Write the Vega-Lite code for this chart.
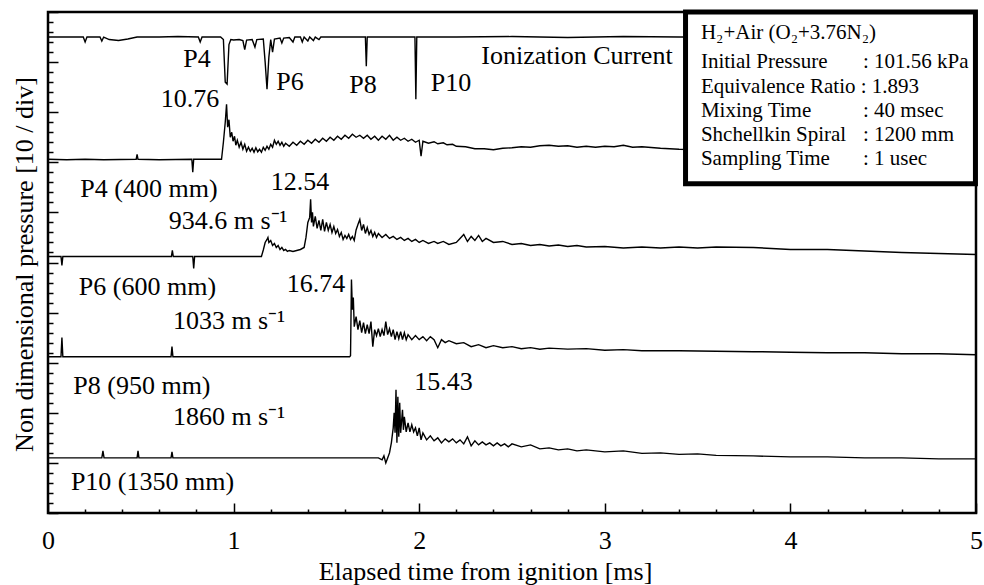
{
"$schema": "https://vega.github.io/schema/vega-lite/v6.json",
"width": 928, "height": 501,
"autosize": {"type": "none"},
"padding": {"left": 48, "top": 12, "right": 8, "bottom": 72},
"background": "white",
"config": {"view": {"stroke": "black", "strokeWidth": 2.5}, "font": "Liberation Serif"},
"encoding": {
"x": {"field": "t", "type": "quantitative", "title": "Elapsed time from ignition [ms]", "scale": {"domain": [0, 5], "nice": false, "zero": false},
"axis": {"values": [0,0.2,0.4,0.6,0.8,1,1.2,1.4,1.6,1.8,2,2.2,2.4,2.6,2.8,3,3.2,3.4,3.6,3.8,4,4.2,4.4,4.6,4.8,5],
"labelExpr": "datum.value % 1 === 0 ? format(datum.value, 'd') : ''", "labelFontSize": 26, "labelColor": "black", "labelPadding": 24, "labelFlush": false, "labelOverlap": false, "labelBound": false,
"domain": false, "grid": false, "tickColor": "black", "tickWidth": 1.5,
"tickSize": {"condition": {"test": "datum.value % 1 === 0", "value": -10}, "value": -4},
"titleFontSize": 26, "titleFontWeight": "normal", "titleColor": "black", "titleX": 437, "titleY": 66, "titleAlign": "center", "titleBaseline": "alphabetic"}},
"y": {"field": "p", "type": "quantitative", "title": "Non dimensional pressure [10 / div]", "scale": {"domain": [0, 100], "nice": false, "zero": false},
"axis": {"values": [0,2,4,6,8,10,12,14,16,18,20,22,24,26,28,30,32,34,36,38,40,42,44,46,48,50,52,54,56,58,60,62,64,66,68,70,72,74,76,78,80,82,84,86,88,90,92,94,96,98,100],
"labels": false, "domain": false, "grid": false, "tickColor": "black", "tickWidth": 1.5,
"tickSize": {"condition": {"test": "datum.value % 10 === 0", "value": -10}, "value": -5},
"titleFontSize": 26, "titleFontWeight": "normal", "titleColor": "black", "titleX": -16, "titleY": 252, "titleAngle": -90, "titleAlign": "center", "titleBaseline": "alphabetic"}}
},
"layer": [
{
"data": {"values": [
{"c":"ion","t":0,"p":95},{"c":"ion","t":0.1,"p":95},{"c":"ion","t":0.19,"p":95},{"c":"ion","t":0.2,"p":94},{"c":"ion","t":0.21,"p":95},{"c":"ion","t":0.28,"p":95},{"c":"ion","t":0.29,"p":94.2},{"c":"ion","t":0.3,"p":95},{"c":"ion","t":0.33,"p":94.5},{"c":"ion","t":0.38,"p":94.3},{"c":"ion","t":0.43,"p":94.6},{"c":"ion","t":0.48,"p":95},{"c":"ion","t":0.6,"p":95},{"c":"ion","t":0.7,"p":95.1},{"c":"ion","t":0.81,"p":95},{"c":"ion","t":0.82,"p":94},{"c":"ion","t":0.83,"p":95},{"c":"ion","t":0.93,"p":95},{"c":"ion","t":0.945,"p":94.5},{"c":"ion","t":0.955,"p":86},{"c":"ion","t":0.965,"p":85.6},{"c":"ion","t":0.975,"p":93.5},{"c":"ion","t":0.985,"p":94.5},{"c":"ion","t":1.0,"p":94.4},{"c":"ion","t":1.03,"p":94.5},{"c":"ion","t":1.05,"p":94.3},{"c":"ion","t":1.06,"p":92.5},{"c":"ion","t":1.07,"p":94.4},{"c":"ion","t":1.1,"p":94.5},{"c":"ion","t":1.115,"p":93},{"c":"ion","t":1.125,"p":94.5},{"c":"ion","t":1.16,"p":94.6},{"c":"ion","t":1.17,"p":90},{"c":"ion","t":1.18,"p":84.6},{"c":"ion","t":1.19,"p":91},{"c":"ion","t":1.2,"p":94.5},{"c":"ion","t":1.21,"p":92},{"c":"ion","t":1.22,"p":94.6},{"c":"ion","t":1.25,"p":94.8},{"c":"ion","t":1.26,"p":93.8},{"c":"ion","t":1.27,"p":94.8},{"c":"ion","t":1.3,"p":94.9},{"c":"ion","t":1.32,"p":94},{"c":"ion","t":1.33,"p":95},{"c":"ion","t":1.36,"p":95},{"c":"ion","t":1.37,"p":94},{"c":"ion","t":1.38,"p":95},{"c":"ion","t":1.4,"p":94.2},{"c":"ion","t":1.41,"p":95},{"c":"ion","t":1.43,"p":94.3},{"c":"ion","t":1.44,"p":95},{"c":"ion","t":1.46,"p":94.5},{"c":"ion","t":1.47,"p":95},{"c":"ion","t":1.6,"p":95},{"c":"ion","t":1.71,"p":95},{"c":"ion","t":1.715,"p":89.2},{"c":"ion","t":1.72,"p":95},{"c":"ion","t":1.9,"p":95},{"c":"ion","t":1.977,"p":95},{"c":"ion","t":1.982,"p":82.6},{"c":"ion","t":1.987,"p":95},{"c":"ion","t":2.2,"p":95},{"c":"ion","t":2.5,"p":95.1},{"c":"ion","t":2.8,"p":94.9},{"c":"ion","t":3.1,"p":95.1},{"c":"ion","t":3.4,"p":95},{"c":"ion","t":3.8,"p":95},{"c":"ion","t":4.2,"p":95},{"c":"ion","t":4.6,"p":95},{"c":"ion","t":5,"p":95},

{"c":"p4","t":0,"p":70.6},{"c":"p4","t":0.1,"p":70.5},{"c":"p4","t":0.2,"p":70.6},{"c":"p4","t":0.3,"p":70.5},{"c":"p4","t":0.475,"p":70.6},{"c":"p4","t":0.48,"p":71.6},{"c":"p4","t":0.485,"p":70.6},{"c":"p4","t":0.6,"p":70.5},{"c":"p4","t":0.775,"p":70.6},{"c":"p4","t":0.78,"p":68},{"c":"p4","t":0.785,"p":70.6},{"c":"p4","t":0.9,"p":70.6},{"c":"p4","t":0.935,"p":70.6},{"c":"p4","t":0.945,"p":74},{"c":"p4","t":0.955,"p":78},{"c":"p4","t":0.962,"p":81.6},{"c":"p4","t":0.968,"p":77},{"c":"p4","t":0.975,"p":78.5},{"c":"p4","t":0.982,"p":75},{"c":"p4","t":0.99,"p":76},{"c":"p4","t":0.997,"p":74.2},{"c":"p4","t":1.005,"p":75.2},{"c":"p4","t":1.012,"p":73.4},{"c":"p4","t":1.02,"p":74.4},{"c":"p4","t":1.03,"p":73},{"c":"p4","t":1.04,"p":74},{"c":"p4","t":1.05,"p":72.6},{"c":"p4","t":1.06,"p":73.6},{"c":"p4","t":1.07,"p":72.2},{"c":"p4","t":1.08,"p":73},{"c":"p4","t":1.09,"p":72.2},{"c":"p4","t":1.1,"p":72.8},{"c":"p4","t":1.11,"p":72},{"c":"p4","t":1.12,"p":72.9},{"c":"p4","t":1.13,"p":72.1},{"c":"p4","t":1.14,"p":72.6},{"c":"p4","t":1.15,"p":72},{"c":"p4","t":1.16,"p":73},{"c":"p4","t":1.17,"p":72.4},{"c":"p4","t":1.18,"p":73.2},{"c":"p4","t":1.19,"p":72.6},{"c":"p4","t":1.2,"p":73.6},{"c":"p4","t":1.21,"p":73},{"c":"p4","t":1.22,"p":74.4},{"c":"p4","t":1.23,"p":73.6},{"c":"p4","t":1.24,"p":74.2},{"c":"p4","t":1.25,"p":73.4},{"c":"p4","t":1.26,"p":74},{"c":"p4","t":1.27,"p":73.2},{"c":"p4","t":1.28,"p":73.8},{"c":"p4","t":1.3,"p":73.2},{"c":"p4","t":1.32,"p":74},{"c":"p4","t":1.34,"p":73.4},{"c":"p4","t":1.36,"p":74.2},{"c":"p4","t":1.38,"p":73.6},{"c":"p4","t":1.4,"p":74.4},{"c":"p4","t":1.42,"p":73.8},{"c":"p4","t":1.44,"p":74.6},{"c":"p4","t":1.46,"p":74},{"c":"p4","t":1.48,"p":74.8},{"c":"p4","t":1.5,"p":74.2},{"c":"p4","t":1.52,"p":75},{"c":"p4","t":1.54,"p":74.4},{"c":"p4","t":1.56,"p":75.2},{"c":"p4","t":1.58,"p":74.6},{"c":"p4","t":1.6,"p":75.4},{"c":"p4","t":1.62,"p":74.8},{"c":"p4","t":1.64,"p":75.6},{"c":"p4","t":1.66,"p":75},{"c":"p4","t":1.68,"p":75.4},{"c":"p4","t":1.7,"p":74.8},{"c":"p4","t":1.72,"p":75.4},{"c":"p4","t":1.74,"p":74.6},{"c":"p4","t":1.76,"p":75.2},{"c":"p4","t":1.78,"p":74.4},{"c":"p4","t":1.8,"p":75.2},{"c":"p4","t":1.82,"p":74.6},{"c":"p4","t":1.84,"p":75.4},{"c":"p4","t":1.86,"p":74.4},{"c":"p4","t":1.88,"p":75},{"c":"p4","t":1.9,"p":74.4},{"c":"p4","t":1.92,"p":74.8},{"c":"p4","t":1.94,"p":74.2},{"c":"p4","t":1.96,"p":74.6},{"c":"p4","t":1.98,"p":74},{"c":"p4","t":2.0,"p":74.4},{"c":"p4","t":2.01,"p":71.2},{"c":"p4","t":2.02,"p":74.2},{"c":"p4","t":2.05,"p":73.8},{"c":"p4","t":2.08,"p":74.1},{"c":"p4","t":2.1,"p":73.7},{"c":"p4","t":2.13,"p":73.9},{"c":"p4","t":2.15,"p":73.5},{"c":"p4","t":2.18,"p":73.6},{"c":"p4","t":2.2,"p":73.2},{"c":"p4","t":2.25,"p":73.1},{"c":"p4","t":2.3,"p":72.7},{"c":"p4","t":2.35,"p":72.7},{"c":"p4","t":2.4,"p":72.5},{"c":"p4","t":2.45,"p":72.8},{"c":"p4","t":2.5,"p":72.9},{"c":"p4","t":2.55,"p":73.1},{"c":"p4","t":2.6,"p":73},{"c":"p4","t":2.65,"p":73.3},{"c":"p4","t":2.7,"p":73.4},{"c":"p4","t":2.75,"p":73.2},{"c":"p4","t":2.8,"p":73.3},{"c":"p4","t":2.85,"p":73},{"c":"p4","t":2.9,"p":73.2},{"c":"p4","t":2.95,"p":73},{"c":"p4","t":3.0,"p":73.2},{"c":"p4","t":3.05,"p":73.1},{"c":"p4","t":3.1,"p":73.4},{"c":"p4","t":3.15,"p":73},{"c":"p4","t":3.2,"p":73.1},{"c":"p4","t":3.3,"p":72.8},{"c":"p4","t":3.4,"p":72.6},{"c":"p4","t":3.6,"p":72.5},{"c":"p4","t":4.0,"p":72.4},{"c":"p4","t":4.5,"p":72.2},{"c":"p4","t":5,"p":72},

{"c":"p6","t":0,"p":51.2},{"c":"p6","t":0.07,"p":51.2},{"c":"p6","t":0.075,"p":49.4},{"c":"p6","t":0.08,"p":51.2},{"c":"p6","t":0.3,"p":51.2},{"c":"p6","t":0.665,"p":51.2},{"c":"p6","t":0.67,"p":52.4},{"c":"p6","t":0.675,"p":51.2},{"c":"p6","t":0.78,"p":51.2},{"c":"p6","t":0.785,"p":48.8},{"c":"p6","t":0.79,"p":51.2},{"c":"p6","t":1.0,"p":51.2},{"c":"p6","t":1.15,"p":51.2},{"c":"p6","t":1.16,"p":52.5},{"c":"p6","t":1.17,"p":54},{"c":"p6","t":1.18,"p":54.6},{"c":"p6","t":1.185,"p":55},{"c":"p6","t":1.19,"p":54},{"c":"p6","t":1.2,"p":54.4},{"c":"p6","t":1.21,"p":53.4},{"c":"p6","t":1.22,"p":53.8},{"c":"p6","t":1.23,"p":53},{"c":"p6","t":1.24,"p":53.4},{"c":"p6","t":1.25,"p":52.6},{"c":"p6","t":1.26,"p":53},{"c":"p6","t":1.27,"p":52.4},{"c":"p6","t":1.28,"p":52.6},{"c":"p6","t":1.29,"p":52.2},{"c":"p6","t":1.3,"p":52.4},{"c":"p6","t":1.32,"p":52.2},{"c":"p6","t":1.34,"p":52.4},{"c":"p6","t":1.36,"p":52.6},{"c":"p6","t":1.38,"p":53},{"c":"p6","t":1.39,"p":55},{"c":"p6","t":1.4,"p":58},{"c":"p6","t":1.41,"p":59},{"c":"p6","t":1.415,"p":62.6},{"c":"p6","t":1.42,"p":58},{"c":"p6","t":1.425,"p":60},{"c":"p6","t":1.43,"p":57.2},{"c":"p6","t":1.44,"p":59.2},{"c":"p6","t":1.45,"p":56.8},{"c":"p6","t":1.46,"p":58.4},{"c":"p6","t":1.47,"p":56.4},{"c":"p6","t":1.48,"p":58.6},{"c":"p6","t":1.49,"p":56.2},{"c":"p6","t":1.5,"p":58},{"c":"p6","t":1.51,"p":56.4},{"c":"p6","t":1.52,"p":57.6},{"c":"p6","t":1.53,"p":56},{"c":"p6","t":1.54,"p":57.2},{"c":"p6","t":1.55,"p":55.8},{"c":"p6","t":1.56,"p":56.6},{"c":"p6","t":1.57,"p":55.2},{"c":"p6","t":1.58,"p":56},{"c":"p6","t":1.59,"p":54.6},{"c":"p6","t":1.6,"p":55.4},{"c":"p6","t":1.61,"p":54.8},{"c":"p6","t":1.62,"p":55.6},{"c":"p6","t":1.63,"p":54.6},{"c":"p6","t":1.64,"p":55.2},{"c":"p6","t":1.65,"p":54.4},{"c":"p6","t":1.66,"p":56.5},{"c":"p6","t":1.67,"p":57.6},{"c":"p6","t":1.68,"p":58.6},{"c":"p6","t":1.69,"p":56.4},{"c":"p6","t":1.7,"p":57.6},{"c":"p6","t":1.71,"p":55.8},{"c":"p6","t":1.72,"p":57},{"c":"p6","t":1.73,"p":55.6},{"c":"p6","t":1.74,"p":56.4},{"c":"p6","t":1.75,"p":55.2},{"c":"p6","t":1.76,"p":56},{"c":"p6","t":1.77,"p":55},{"c":"p6","t":1.78,"p":55.8},{"c":"p6","t":1.8,"p":55},{"c":"p6","t":1.82,"p":55.6},{"c":"p6","t":1.84,"p":54.8},{"c":"p6","t":1.86,"p":55.2},{"c":"p6","t":1.88,"p":54.6},{"c":"p6","t":1.9,"p":55},{"c":"p6","t":1.92,"p":54.4},{"c":"p6","t":1.94,"p":54.8},{"c":"p6","t":1.96,"p":54.2},{"c":"p6","t":1.98,"p":54.6},{"c":"p6","t":2.0,"p":54},{"c":"p6","t":2.02,"p":54.4},{"c":"p6","t":2.05,"p":53.8},{"c":"p6","t":2.08,"p":54.2},{"c":"p6","t":2.1,"p":53.8},{"c":"p6","t":2.13,"p":54.2},{"c":"p6","t":2.16,"p":53.6},{"c":"p6","t":2.2,"p":54},{"c":"p6","t":2.22,"p":54.8},{"c":"p6","t":2.24,"p":55.6},{"c":"p6","t":2.26,"p":54.2},{"c":"p6","t":2.28,"p":55.2},{"c":"p6","t":2.3,"p":54.4},{"c":"p6","t":2.32,"p":55.4},{"c":"p6","t":2.34,"p":54.2},{"c":"p6","t":2.36,"p":54.8},{"c":"p6","t":2.4,"p":54},{"c":"p6","t":2.45,"p":54.2},{"c":"p6","t":2.5,"p":53.6},{"c":"p6","t":2.55,"p":53.8},{"c":"p6","t":2.6,"p":53.4},{"c":"p6","t":2.65,"p":53.6},{"c":"p6","t":2.7,"p":53.3},{"c":"p6","t":2.75,"p":53.5},{"c":"p6","t":2.8,"p":53.2},{"c":"p6","t":2.85,"p":53.4},{"c":"p6","t":2.9,"p":53.1},{"c":"p6","t":3.0,"p":53.2},{"c":"p6","t":3.1,"p":52.9},{"c":"p6","t":3.2,"p":53.1},{"c":"p6","t":3.3,"p":52.9},{"c":"p6","t":3.4,"p":53.1},{"c":"p6","t":3.5,"p":52.9},{"c":"p6","t":3.6,"p":53.1},{"c":"p6","t":3.8,"p":53},{"c":"p6","t":4.0,"p":52.6},{"c":"p6","t":4.2,"p":52.6},{"c":"p6","t":4.4,"p":52.3},{"c":"p6","t":4.6,"p":52},{"c":"p6","t":4.8,"p":51.8},{"c":"p6","t":5,"p":51.6},

{"c":"p8","t":0,"p":31.2},{"c":"p8","t":0.07,"p":31.2},{"c":"p8","t":0.075,"p":35},{"c":"p8","t":0.08,"p":31.2},{"c":"p8","t":0.4,"p":31.2},{"c":"p8","t":0.663,"p":31.2},{"c":"p8","t":0.668,"p":33.2},{"c":"p8","t":0.673,"p":31.2},{"c":"p8","t":1.0,"p":31.2},{"c":"p8","t":1.3,"p":31.2},{"c":"p8","t":1.625,"p":31.2},{"c":"p8","t":1.63,"p":31.4},{"c":"p8","t":1.635,"p":46.6},{"c":"p8","t":1.64,"p":40.6},{"c":"p8","t":1.645,"p":43},{"c":"p8","t":1.65,"p":37.2},{"c":"p8","t":1.66,"p":39.2},{"c":"p8","t":1.67,"p":36.6},{"c":"p8","t":1.68,"p":38.4},{"c":"p8","t":1.69,"p":36},{"c":"p8","t":1.7,"p":38},{"c":"p8","t":1.71,"p":35.8},{"c":"p8","t":1.72,"p":37.6},{"c":"p8","t":1.73,"p":35.8},{"c":"p8","t":1.74,"p":38.2},{"c":"p8","t":1.75,"p":33.2},{"c":"p8","t":1.76,"p":36.6},{"c":"p8","t":1.77,"p":35.4},{"c":"p8","t":1.78,"p":36.8},{"c":"p8","t":1.79,"p":35.2},{"c":"p8","t":1.8,"p":36.6},{"c":"p8","t":1.81,"p":35.4},{"c":"p8","t":1.82,"p":38.2},{"c":"p8","t":1.83,"p":35.6},{"c":"p8","t":1.84,"p":36.8},{"c":"p8","t":1.85,"p":35.2},{"c":"p8","t":1.86,"p":36.6},{"c":"p8","t":1.87,"p":34.6},{"c":"p8","t":1.88,"p":36.2},{"c":"p8","t":1.89,"p":34.8},{"c":"p8","t":1.9,"p":36.2},{"c":"p8","t":1.91,"p":34.6},{"c":"p8","t":1.92,"p":36},{"c":"p8","t":1.93,"p":34.6},{"c":"p8","t":1.94,"p":35.6},{"c":"p8","t":1.96,"p":34.6},{"c":"p8","t":1.98,"p":35.4},{"c":"p8","t":2.0,"p":34.6},{"c":"p8","t":2.02,"p":35.2},{"c":"p8","t":2.04,"p":34.4},{"c":"p8","t":2.06,"p":35.2},{"c":"p8","t":2.08,"p":34.6},{"c":"p8","t":2.1,"p":33},{"c":"p8","t":2.12,"p":34.6},{"c":"p8","t":2.14,"p":34},{"c":"p8","t":2.16,"p":34.4},{"c":"p8","t":2.2,"p":33.8},{"c":"p8","t":2.24,"p":34},{"c":"p8","t":2.28,"p":33.2},{"c":"p8","t":2.32,"p":33.6},{"c":"p8","t":2.36,"p":33},{"c":"p8","t":2.4,"p":33.4},{"c":"p8","t":2.45,"p":33},{"c":"p8","t":2.5,"p":33.2},{"c":"p8","t":2.55,"p":32.8},{"c":"p8","t":2.6,"p":33},{"c":"p8","t":2.65,"p":32.7},{"c":"p8","t":2.7,"p":32.9},{"c":"p8","t":2.8,"p":32.7},{"c":"p8","t":2.9,"p":32.8},{"c":"p8","t":3.0,"p":32.5},{"c":"p8","t":3.1,"p":32.6},{"c":"p8","t":3.2,"p":32.4},{"c":"p8","t":3.4,"p":32.4},{"c":"p8","t":3.6,"p":32.3},{"c":"p8","t":3.8,"p":32.2},{"c":"p8","t":4.0,"p":32.1},{"c":"p8","t":4.2,"p":32},{"c":"p8","t":4.4,"p":32},{"c":"p8","t":4.6,"p":31.8},{"c":"p8","t":4.8,"p":31.8},{"c":"p8","t":5,"p":31.6},

{"c":"p10","t":0,"p":11},{"c":"p10","t":0.29,"p":11},{"c":"p10","t":0.296,"p":12.4},{"c":"p10","t":0.302,"p":11},{"c":"p10","t":0.48,"p":11},{"c":"p10","t":0.485,"p":12.4},{"c":"p10","t":0.49,"p":11},{"c":"p10","t":0.663,"p":11},{"c":"p10","t":0.668,"p":12.2},{"c":"p10","t":0.673,"p":11},{"c":"p10","t":1.0,"p":11},{"c":"p10","t":1.5,"p":11},{"c":"p10","t":1.78,"p":11},{"c":"p10","t":1.8,"p":10.6},{"c":"p10","t":1.81,"p":11.4},{"c":"p10","t":1.82,"p":10},{"c":"p10","t":1.83,"p":11},{"c":"p10","t":1.84,"p":12},{"c":"p10","t":1.85,"p":14},{"c":"p10","t":1.86,"p":17},{"c":"p10","t":1.865,"p":20},{"c":"p10","t":1.87,"p":16},{"c":"p10","t":1.875,"p":24.6},{"c":"p10","t":1.88,"p":14},{"c":"p10","t":1.885,"p":23.2},{"c":"p10","t":1.89,"p":15.2},{"c":"p10","t":1.895,"p":22},{"c":"p10","t":1.9,"p":16},{"c":"p10","t":1.91,"p":20.6},{"c":"p10","t":1.915,"p":16.6},{"c":"p10","t":1.92,"p":19.2},{"c":"p10","t":1.93,"p":16.2},{"c":"p10","t":1.94,"p":18},{"c":"p10","t":1.95,"p":16.2},{"c":"p10","t":1.96,"p":17.6},{"c":"p10","t":1.97,"p":16.2},{"c":"p10","t":1.98,"p":17},{"c":"p10","t":1.99,"p":15.4},{"c":"p10","t":2.0,"p":17},{"c":"p10","t":2.01,"p":14.6},{"c":"p10","t":2.02,"p":16},{"c":"p10","t":2.04,"p":14.6},{"c":"p10","t":2.06,"p":15.4},{"c":"p10","t":2.08,"p":14.4},{"c":"p10","t":2.1,"p":15},{"c":"p10","t":2.12,"p":14},{"c":"p10","t":2.14,"p":14.8},{"c":"p10","t":2.16,"p":14.2},{"c":"p10","t":2.18,"p":14.8},{"c":"p10","t":2.2,"p":14},{"c":"p10","t":2.22,"p":14.6},{"c":"p10","t":2.24,"p":13.8},{"c":"p10","t":2.26,"p":15.2},{"c":"p10","t":2.28,"p":13.4},{"c":"p10","t":2.3,"p":14.4},{"c":"p10","t":2.32,"p":13.6},{"c":"p10","t":2.34,"p":14.2},{"c":"p10","t":2.36,"p":13.6},{"c":"p10","t":2.38,"p":14},{"c":"p10","t":2.4,"p":13.4},{"c":"p10","t":2.42,"p":14},{"c":"p10","t":2.44,"p":13.4},{"c":"p10","t":2.46,"p":13.8},{"c":"p10","t":2.48,"p":13.2},{"c":"p10","t":2.5,"p":13.8},{"c":"p10","t":2.55,"p":13.2},{"c":"p10","t":2.6,"p":13.6},{"c":"p10","t":2.65,"p":12.8},{"c":"p10","t":2.7,"p":13},{"c":"p10","t":2.75,"p":12.6},{"c":"p10","t":2.8,"p":12.8},{"c":"p10","t":2.85,"p":12.4},{"c":"p10","t":2.9,"p":12.6},{"c":"p10","t":3.0,"p":12.2},{"c":"p10","t":3.1,"p":12.4},{"c":"p10","t":3.2,"p":11.9},{"c":"p10","t":3.3,"p":12},{"c":"p10","t":3.4,"p":11.7},{"c":"p10","t":3.5,"p":11.8},{"c":"p10","t":3.6,"p":11.5},{"c":"p10","t":3.8,"p":11.4},{"c":"p10","t":4.0,"p":11.2},{"c":"p10","t":4.2,"p":11.2},{"c":"p10","t":4.4,"p":11},{"c":"p10","t":4.6,"p":11},{"c":"p10","t":4.8,"p":10.8},{"c":"p10","t":5,"p":10.8}
]},
"mark": {"type": "line", "color": "black", "strokeWidth": 1.4, "clip": true},
"encoding": {"detail": {"field": "c"}}
},
{
"data": {"values": [{"t": 3.435, "t2": 4.997, "p": 65.7, "p2": 100}]},
"mark": {"type": "rect", "fill": "white", "stroke": "black", "strokeWidth": 5},
"encoding": {"x2": {"field": "t2"}, "y2": {"field": "p2"}}
},
{
"data": {"values": [
{"t": 0.803, "p": 90.6, "s": "P4"},
{"t": 0.765, "p": 82.6, "s": "10.76"},
{"t": 1.304, "p": 86.1, "s": "P6"},
{"t": 1.697, "p": 85.4, "s": "P8"},
{"t": 2.171, "p": 85.8, "s": "P10"},
{"t": 2.85, "p": 91.3, "s": "Ionization Current"},
{"t": 0.544, "p": 64.7, "s": "P4 (400 mm)"},
{"t": 1.358, "p": 66.0, "s": "12.54"},
{"t": 0.97, "p": 58.2, "s": "934.6 m s⁻¹"},
{"t": 0.536, "p": 45.2, "s": "P6 (600 mm)"},
{"t": 1.444, "p": 45.8, "s": "16.74"},
{"t": 0.975, "p": 38.4, "s": "1033 m s⁻¹"},
{"t": 0.506, "p": 25.4, "s": "P8 (950 mm)"},
{"t": 2.131, "p": 26.1, "s": "15.43"},
{"t": 0.975, "p": 19.2, "s": "1860 m s⁻¹"},
{"t": 0.563, "p": 6.1, "s": "P10 (1350 mm)"}
]},
"mark": {"type": "text", "fontSize": 26, "align": "center", "baseline": "middle", "color": "black"},
"encoding": {"text": {"field": "s"}}
},
{
"data": {"values": [
{"t": 3.518, "p": 95.9, "s": "H₂+Air (O₂+3.76N₂)"},
{"t": 3.518, "p": 90.0, "s": "Initial Pressure"},
{"t": 3.518, "p": 85.1, "s": "Equivalence Ratio : 1.893"},
{"t": 3.518, "p": 80.3, "s": "Mixing Time"},
{"t": 3.518, "p": 75.4, "s": "Shchellkin Spiral"},
{"t": 3.518, "p": 70.7, "s": "Sampling Time"},
{"t": 4.391, "p": 90.0, "s": ": 101.56 kPa"},
{"t": 4.391, "p": 80.3, "s": ": 40 msec"},
{"t": 4.391, "p": 75.4, "s": ": 1200 mm"},
{"t": 4.391, "p": 70.7, "s": ": 1 usec"}
]},
"mark": {"type": "text", "fontSize": 21, "align": "left", "baseline": "middle", "color": "black"},
"encoding": {"text": {"field": "s"}}
}
]
}
